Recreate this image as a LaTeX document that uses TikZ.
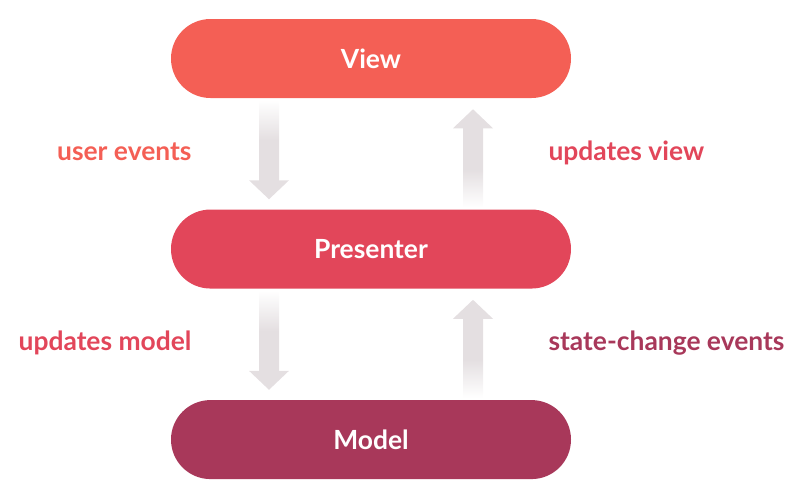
\documentclass[tikz,border=0pt]{standalone}
\usepackage{fontspec}
\setmainfont{Lato}
\usetikzlibrary{positioning, calc}

\definecolor{viewred}{HTML}{F45F55}
\definecolor{presred}{HTML}{E2465A}
\definecolor{modelred}{HTML}{A8385A}
\definecolor{flowgray}{HTML}{E4DFE1}

% shaft shadings, the tail end fades out
\pgfdeclareverticalshading{fadedown}{100bp}{color(0bp)=(flowgray); color(50bp)=(flowgray); color(75bp)=(white); color(100bp)=(white)}
\pgfdeclareverticalshading{fadeup}{100bp}{color(0bp)=(white); color(25bp)=(white); color(49bp)=(flowgray); color(100bp)=(flowgray)}

% #1 tail, #2 tip, #3 shading
\newcommand\flowarrow[3]{%
    \coordinate (hb) at ($(#2)!14.25pt!(#1)$);
    \path[shading=#3] ($(#1)+(-10,0)$) rectangle ($(hb)+(10,0)$);
    \fill[flowgray] ($(hb)+(-20,0)$) -- ($(hb)+(20,0)$) -- (#2) -- cycle;
}

\begin{document}
\begin{tikzpicture}[
        x=0.75pt, y=-0.75pt,
        Pill/.style={rectangle, rounded corners=29.6pt, minimum width=300pt, minimum height=59.25pt, inner sep=0pt, text=white, font=\fontsize{19.8}{24}\selectfont\bfseries},
        Label/.style={inner sep=0pt, font=\fontsize{19.8}{24}\selectfont\bfseries}
    ]
    \useasboundingbox (0,0) rectangle (804,494);

    % the three layers
    \node (View) [Pill, fill=viewred] at (371,58.5) {View};
    \node (Presenter) [Pill, fill=presred, below=83.25pt of View] {Presenter};
    \node (Model) [Pill, fill=modelred, below=83.25pt of Presenter] {Model};

    % arrow ends
    \coordinate (UE_tail) at ([xshift=-76.5pt, yshift=-1.5pt]View.south);
    \coordinate (UE_tip) at ([xshift=-76.5pt, yshift=7.5pt]Presenter.north);
    \coordinate (UV_tail) at ([xshift=76.5pt, yshift=1.5pt]Presenter.north);
    \coordinate (UV_tip) at ([xshift=76.5pt, yshift=-8.25pt]View.south);
    \coordinate (UM_tail) at ([xshift=-76.5pt, yshift=-1.5pt]Presenter.south);
    \coordinate (UM_tip) at ([xshift=-76.5pt, yshift=7.5pt]Model.north);
    \coordinate (SC_tail) at ([xshift=76.5pt, yshift=1.5pt]Model.north);
    \coordinate (SC_tip) at ([xshift=76.5pt, yshift=-8.25pt]Presenter.south);

    % the arrows
    \flowarrow{UE_tail}{UE_tip}{fadedown}
    \flowarrow{UV_tail}{UV_tip}{fadeup}
    \flowarrow{UM_tail}{UM_tip}{fadedown}
    \flowarrow{SC_tail}{SC_tip}{fadeup}

    % labels
    \node (UE_label) [Label, text=viewred, anchor=base east] at ([xshift=15.75pt, yshift=-4.9pt]$(View.south west)!0.5!(Presenter.north west)$) {user events};
    \node (UV_label) [Label, text=presred, anchor=base west] at ([xshift=-17.25pt, yshift=-4.9pt]$(View.south east)!0.5!(Presenter.north east)$) {updates view};
    \node (UM_label) [Label, text=presred, anchor=base east] at ([xshift=15.75pt, yshift=-4.9pt]$(Presenter.south west)!0.5!(Model.north west)$) {updates model};
    \node (SC_label) [Label, text=modelred, anchor=base west] at ([xshift=-17.25pt, yshift=-4.9pt]$(Presenter.south east)!0.5!(Model.north east)$) {state-change events};
\end{tikzpicture}
\end{document}
